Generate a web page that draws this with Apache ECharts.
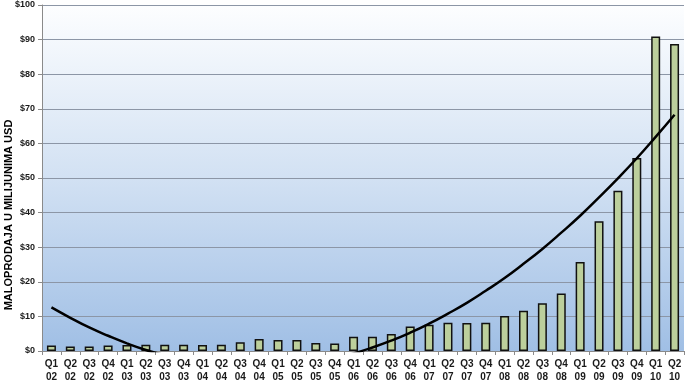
<!DOCTYPE html>
<html>
<head>
<meta charset="utf-8">
<script src="https://cdn.jsdelivr.net/npm/echarts@6/dist/echarts.min.js"></script>
<style>html,body{margin:0;padding:0;background:#fff;}#c{width:688px;height:384px;}</style>
</head>
<body>
<div id="c"></div>
<script>
var categories = ['Q1\n02','Q2\n02','Q3\n02','Q4\n02','Q1\n03','Q2\n03','Q3\n03','Q4\n03','Q1\n04','Q2\n04','Q3\n04','Q4\n04','Q1\n05','Q2\n05','Q3\n05','Q4\n05','Q1\n06','Q2\n06','Q3\n06','Q4\n06','Q1\n07','Q2\n07','Q3\n07','Q4\n07','Q1\n08','Q2\n08','Q3\n08','Q4\n08','Q1\n09','Q2\n09','Q3\n09','Q4\n09','Q1\n10','Q2\n10'];
var sales = [1.6,1.3,1.3,1.6,1.7,1.8,1.8,1.8,1.7,1.8,2.5,3.5,3.2,3.2,2.3,2.2,4.1,4.1,4.9,7.1,7.6,8.2,8.1,8.2,10.1,11.6,13.8,16.6,25.7,37.5,46.3,55.8,90.9,88.7];
var trend = [12.6,9.6,6.8,4.4,2.2,0.3,-1.2,-2.5,-3.5,-4.2,-4.6,-4.6,-4.4,-3.9,-3.1,-2.0,-0.7,1.0,3.0,5.3,7.9,10.8,13.9,17.4,21.1,25.2,29.5,34.2,39.1,44.4,49.9,55.7,61.9,68.3];
var yTicks = [0,10,20,30,40,50,60,70,80,90,100];
var yName = 'MALOPRODAJA U MILIJUNIMA USD';

var chart = echarts.init(document.getElementById('c'), null, {renderer:'canvas'});
chart.setOption({
  animation: false,
  textStyle: {fontFamily: 'Liberation Sans, Arial, sans-serif'},
  grid: {
    left: 42, top: 5, right: 4, bottom: 32,
    show: true, borderWidth: 0,
    backgroundColor: new echarts.graphic.LinearGradient(0,0,0,1,[{offset:0,color:'#fdfeff'},{offset:0.5,color:'#d2e1f3'},{offset:1,color:'#a0bfe5'}])
  },
  graphic: [{
    type: 'text',
    x: 9, y: 215,
    rotation: Math.PI/2,
    style: {text: yName, font: 'bold 11px "Liberation Sans", Arial, sans-serif', fill: '#000', align: 'center', verticalAlign: 'middle'}
  }],
  xAxis: {
    type: 'category', data: categories, boundaryGap: true,
    axisLine: {lineStyle: {color: '#8a8a8a', width: 1}},
    axisTick: {show: true, alignWithLabel: false, length: 4, lineStyle: {color: '#8a8a8a'}},
    axisLabel: {interval: 0, color: '#1a1a1a', fontWeight: 'bold', fontSize: 10, lineHeight: 13, margin: 7}
  },
  yAxis: {
    type: 'value', min: yTicks[0], max: yTicks[yTicks.length-1], interval: 10,
    axisLine: {show: true, lineStyle: {color: '#8a8a8a'}},
    axisTick: {show: true, length: 4, inside: false, lineStyle: {color: '#8a8a8a'}},
    axisLabel: {color: '#1a1a1a', fontWeight: 'bold', fontSize: 9, margin: 7, formatter: function(v){return '$' + v;}},
    splitLine: {show: true, lineStyle: {color: '#8c96a6', width: 1}}
  },
  series: [{
    type: 'bar', data: sales, barWidth: 9,
    itemStyle: {color: '#bccf9c', borderColor: '#111', borderWidth: 1.5}
  },{
    type: 'line', data: trend, smooth: true, showSymbol: false, clip: true,
    lineStyle: {color: '#000', width: 2.5}, z: 5
  }]
});
</script>
</body>
</html>
